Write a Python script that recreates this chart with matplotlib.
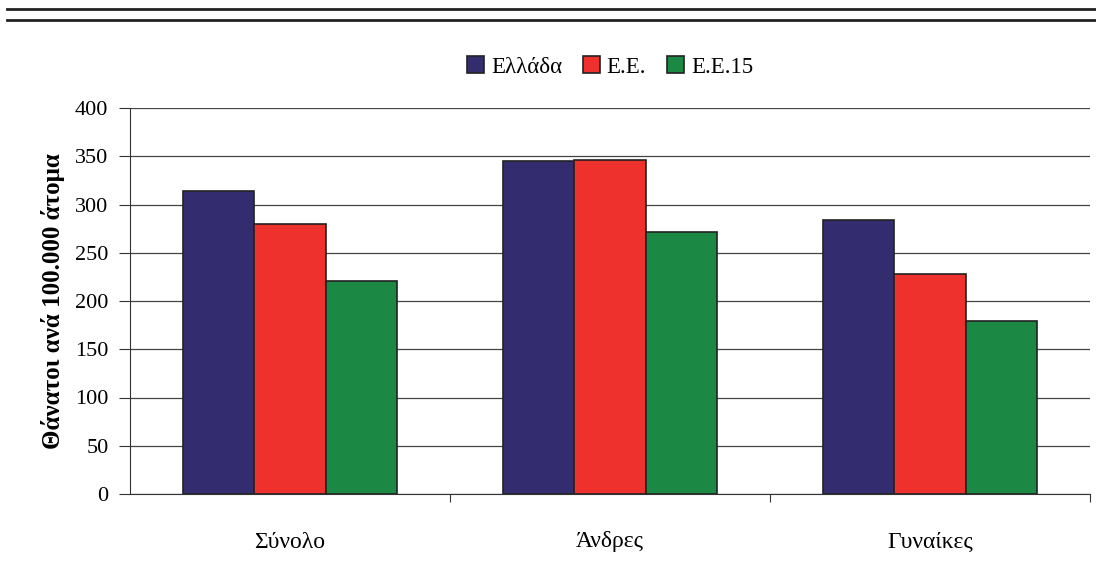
import numpy as np
import matplotlib.pyplot as plt
from matplotlib.lines import Line2D

categories = ["Σύνολο", "Άνδρες", "Γυναίκες"]
series = ["Ελλάδα", "Ε.Ε.", "Ε.Ε.15"]
greece = [314, 345, 284]
eu = [280, 346, 228]
eu15 = [221, 272, 179]
colors = ["#332C6E", "#EE312C", "#1B8843"]

plt.rcParams['font.family'] = ['Liberation Serif', 'DejaVu Serif']

fig = plt.figure(figsize=(10.96, 5.66), dpi=100)
ax = fig.add_axes([130/1096, 72/566, 960/1096, 386/566])

x = np.arange(len(categories))
w = 0.222
for i, (name, vals, c) in enumerate(zip(series, [greece, eu, eu15], colors)):
    ax.bar(x + (i - 1) * w, vals, w, color=c, edgecolor="#222222", linewidth=1.2,
           label=name, zorder=3)

ax.set_xlim(-0.5, 2.5)
ax.set_ylim(0, 400)
ax.set_yticks(range(0, 401, 50))
ax.yaxis.grid(True, color="#444444", linewidth=0.9, zorder=0)
ax.set_xticks([0.5, 1.5, 2.5])
ax.set_xticklabels([])
ax.set_xticks(x, minor=True)
ax.set_xticklabels(categories, minor=True, fontsize=17)
ax.tick_params(axis='x', which='minor', length=0, pad=27)
ax.tick_params(axis='x', which='major', length=6, color="#333333")
ax.tick_params(axis='y', length=8, labelsize=16, color="#333333", pad=7.5)
for s in ["top", "right"]:
    ax.spines[s].set_visible(False)
for s in ["left", "bottom"]:
    ax.spines[s].set_color("#333333")
ax.set_ylabel("Θάνατοι ανά 100.000 άτομα", fontsize=18, fontweight="bold", labelpad=7)

ax.legend(loc="center", bbox_to_anchor=(610/1096, 1 - 67/566), bbox_transform=fig.transFigure,
          ncol=3, frameon=False, fontsize=16.5, handlelength=0.75, handleheight=0.75,
          handletextpad=0.3, columnspacing=0.9)

for yy in [9, 20]:
    fig.add_artist(Line2D([7/1096, 1], [1 - yy/566, 1 - yy/566], color="#222222", linewidth=2))

fig.savefig("out.png", dpi=100)
